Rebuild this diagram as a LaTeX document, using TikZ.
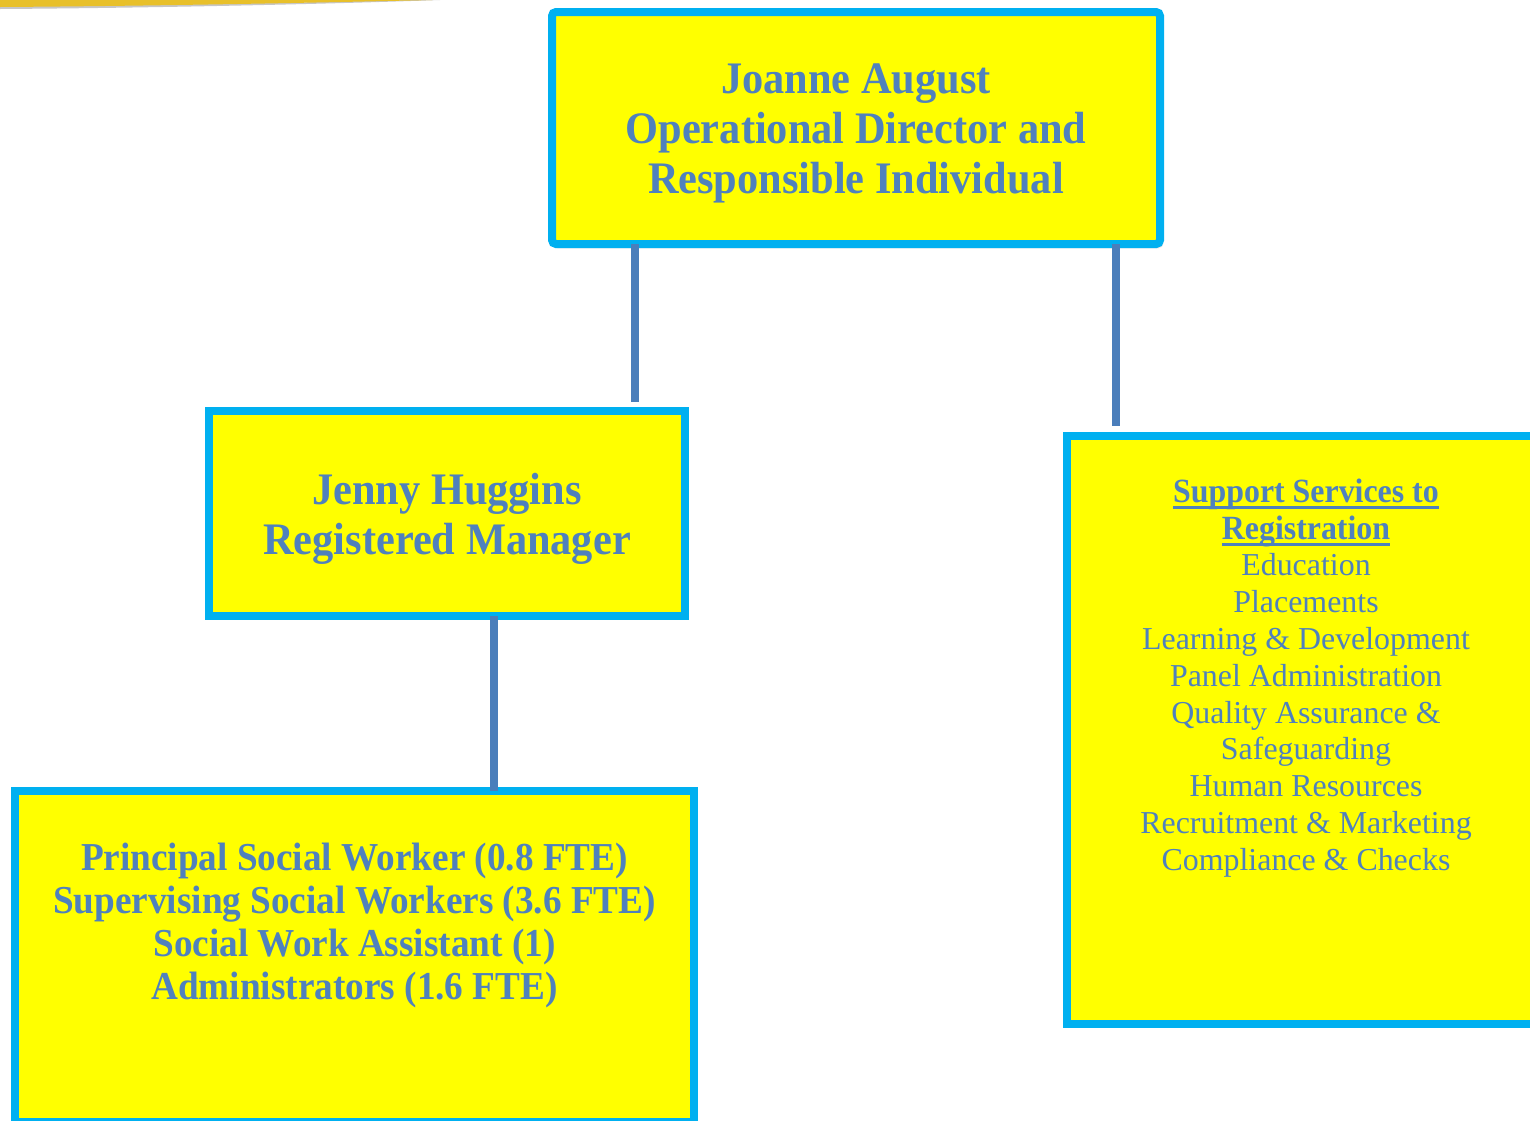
\documentclass[tikz,border=0pt]{standalone}
\usepackage{fontspec}
\setmainfont{Liberation Serif}[BoldFeatures={FakeStretch=0.94}]
\usetikzlibrary{shadows.blur}
\definecolor{txtblue}{HTML}{4F81BD}
\definecolor{lineblue}{HTML}{4A7EBB}
\definecolor{boxcyan}{HTML}{00B0F0}
\definecolor{boxyellow}{HTML}{FFFF00}
\definecolor{ribbon}{HTML}{E8C02A}
\newcommand\myul[1]{\leavevmode\setbox0\hbox{#1}\rlap{\color{txtblue}\rule[-6.5pt]{\wd0}{2.6pt}}\box0}
\tikzset{
  orgbox/.style={draw=boxcyan, fill=boxyellow, line width=8pt, inner sep=0pt, outer sep=0pt},
  conn/.style={draw=lineblue, line width=8pt},
  bigtxt/.style={text=txtblue, align=center, font=\bfseries\fontsize{45.1}{50}\selectfont},
  midtxt/.style={text=txtblue, align=center, font=\bfseries\fontsize{39.6}{43}\selectfont},
  smalltxt/.style={text=txtblue, align=center, font=\fontsize{31.9}{36.8}\selectfont}
}
\begin{document}
\begin{tikzpicture}[x=1pt,y=-1pt]
\useasboundingbox (0,0) rectangle (1530,1120);
\clip (0,0) rectangle (1530,1120);
% decorative ribbon at top left
\fill[gray!45] (0,6) -- (0,9) .. controls (150,8) and (330,4) .. (440,0) -- (400,0) .. controls (300,3) and (150,5) .. (0,6) -- cycle;
\fill[ribbon] (0,0) -- (0,7) .. controls (150,6) and (300,3) .. (432,0) -- cycle;
% boxes
\node[orgbox, rounded corners=4pt, blur shadow={shadow xshift=2pt, shadow yshift=-3pt, shadow blur steps=6, shadow opacity=40}, minimum width=608, minimum height=232] (top) at (856,128) {};
\node[bigtxt] (toptxt) at (856,133)
  {Joanne August\\Operational Director and\\Responsible Individual};
\node[orgbox, minimum width=476, minimum height=205] (jenny) at (447,513.5) {};
\node[bigtxt] (jennytxt) at (447,519)
  {Jenny Huggins\\Registered Manager};
\node[orgbox, minimum width=679, minimum height=331] (staff) at (354.5,956.5) {};
\node[midtxt] (stafftxt) at (354.5,925)
  {Principal Social Worker (0.8 FTE)\\Supervising Social Workers (3.6 FTE)\\Social Work Assistant (1)\\Administrators (1.6 FTE)};
\node[orgbox, minimum width=500, minimum height=588] (support) at (1317,729.5) {};
\node[smalltxt] (supporttxt) at (1306,678)
  {\myul{\bfseries\fontsize{33.9}{36.8}\selectfont Support Services to}\\\myul{\bfseries\fontsize{33.9}{36.8}\selectfont Registration}\\Education\\Placements\\Learning \& Development\\Panel Administration\\Quality Assurance \&\\Safeguarding\\Human Resources\\Recruitment \& Marketing\\Compliance \& Checks};
% connectors
\coordinate (c1) at (635,402);
\coordinate (c2) at (1116,426);
\draw[conn] (top.south -| c1) -- (c1);
\draw[conn] (top.south -| c2) -- (c2);
\draw[conn] (jenny.south -| 494,0) -- (staff.north -| 494,0);
\end{tikzpicture}
\end{document}
